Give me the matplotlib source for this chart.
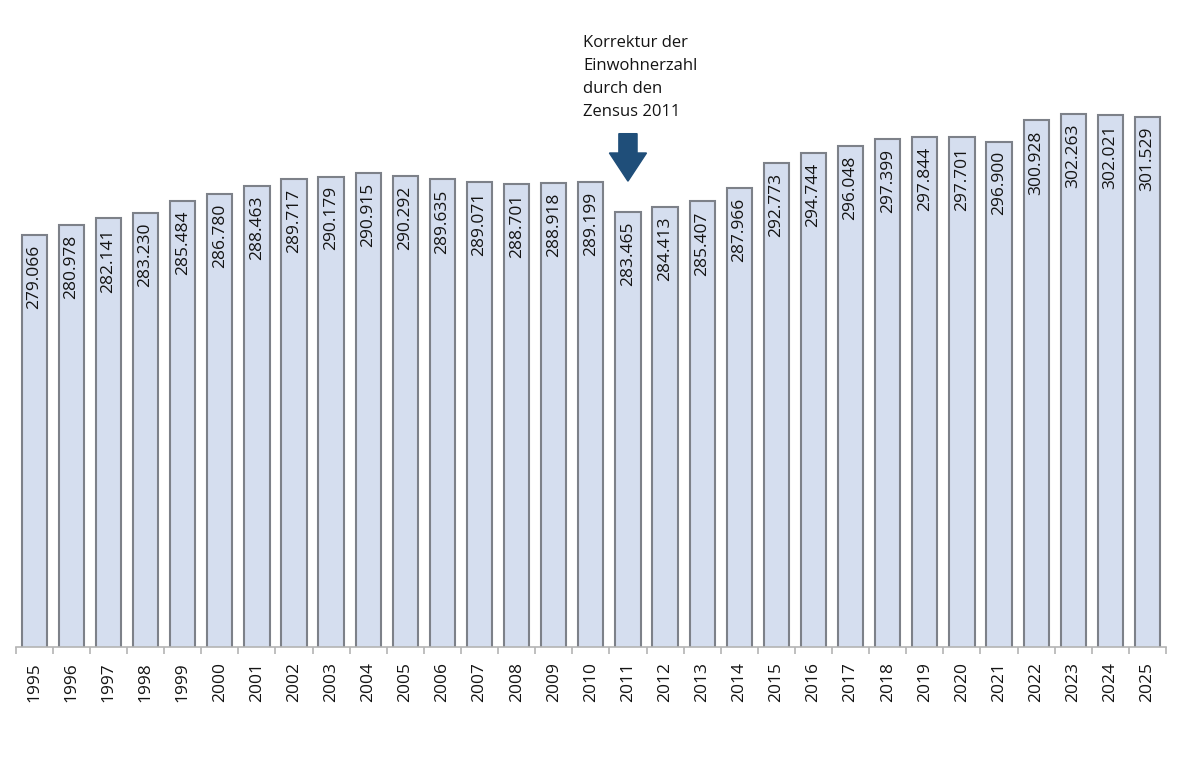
import matplotlib
matplotlib.use("Agg")
import matplotlib.pyplot as plt
import numpy as np
from matplotlib.patches import FancyArrow

plt.rcParams["font.family"] = ["Open Sans", "DejaVu Sans"]

years = [str(y) for y in range(1995, 2026)]
values = [279.066, 280.978, 282.141, 283.230, 285.484, 286.780, 288.463,
          289.717, 290.179, 290.915, 290.292, 289.635, 289.071, 288.701,
          288.918, 289.199, 283.465, 284.413, 285.407, 287.966, 292.773,
          294.744, 296.048, 297.399, 297.844, 297.701, 296.900, 300.928,
          302.263, 302.021, 301.529]
note = "Korrektur der\nEinwohnerzahl\ndurch den\nZensus 2011"

W, H = 1180, 773
fig = plt.figure(figsize=(W / 100, H / 100), dpi=100)
ax = fig.add_axes([15.7 / W, 126 / H, (1166 - 15.7) / W, 626 / H])

x = np.arange(len(years))
ax.bar(x, values, width=0.68, bottom=0, color="#d5deef",
       edgecolor="#7d8189", linewidth=1.5, zorder=2)
ax.set_ylim(200, 320)
ax.set_xlim(-0.5, len(years) - 0.5)

for xi, v in zip(x, values):
    ax.annotate(f"{v:.3f}", (xi, v), xytext=(0, -7), textcoords="offset points",
                rotation=90, ha="center", va="top", fontsize=12.5,
                color="#141414", zorder=3)

# axes styling: only a grey baseline with ticks between categories
for s in ("left", "right", "top"):
    ax.spines[s].set_visible(False)
ax.spines["bottom"].set_color("#b4b4b4")
ax.spines["bottom"].set_linewidth(1.2)
ax.set_yticks([])
ax.set_xticks(np.arange(-0.5, len(years)), minor=False)
ax.set_xticklabels([])
ax.set_xticks(x, minor=True)
ax.set_xticklabels(years, minor=True, rotation=90, fontsize=12.5,
                   color="#141414")
ax.tick_params(axis="x", which="major", length=5, width=1.2,
               color="#b4b4b4")
ax.tick_params(axis="x", which="minor", length=0, pad=11)

# Zensus 2011 annotation
i11 = years.index("2011")
ax.add_patch(FancyArrow(i11, 298.4, 0, -9.1, width=0.49, head_width=1.0,
                        head_length=5.4, length_includes_head=True,
                        color="#1f4e79", zorder=4))
ax.text(i11 - 1.21, 317.4, note, ha="left", va="top", fontsize=12,
        linespacing=1.6, color="#141414")

fig.savefig("out.png", dpi=100)
